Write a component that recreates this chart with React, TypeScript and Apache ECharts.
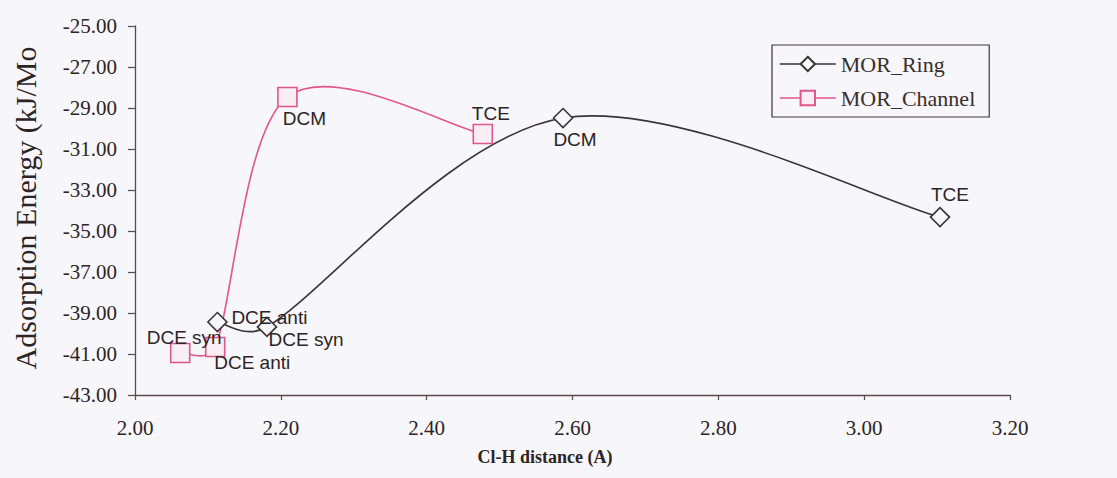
import React, { useEffect, useRef } from 'react';
import * as echarts from 'echarts';

// ---- axis ticks ----
const xTicks = [2.0, 2.2, 2.4, 2.6, 2.8, 3.0, 3.2];
const yTicks = [-43, -41, -39, -37, -35, -33, -31, -29, -27, -25];

// ---- MOR_Ring series ----
const ringNames = ['DCE anti', 'DCE syn', 'DCM', 'TCE'];
const ringX = [2.113, 2.181, 2.587, 3.104];
const ringY = [-39.44, -39.68, -29.49, -34.32];

// ---- MOR_Channel series ----
const channelNames = ['DCE syn', 'DCE anti', 'DCM', 'TCE'];
const channelX = [2.062, 2.11, 2.209, 2.477];
const channelY = [-40.95, -40.66, -28.46, -30.27];

// label offsets (px, relative to marker centre)
const ringLabelOffsets = [[52, -5], [39, 13], [12, 21], [10, -23]];
const channelLabelOffsets = [[4, -15], [37, 15], [17, 22], [8, -21]];

const RING_COLOR = '#3a3434';
const CHANNEL_COLOR = '#e2558e';
const AXIS_COLOR = '#5a4c4c';
const TEXT_COLOR = '#2d2424';
const BG = '#f7f6fa';
const LINE_W = 1.6;

// Excel-style smoothed segment between point i and i+1
// (Catmull-Rom tangents /6, control arm capped at half the segment length)
function smoothSegment(xs: number[], ys: number[], stroke: string) {
  return (params: any, api: any) => {
    const i = params.dataIndex;
    const n = xs.length;
    if (i >= n - 1) return null;
    const P = (k: number) => {
      const j = Math.max(0, Math.min(n - 1, k));
      return api.coord([xs[j], ys[j]]);
    };
    const p0 = P(i - 1);
    const p1 = P(i);
    const p2 = P(i + 1);
    const p3 = P(i + 2);
    const seg = Math.hypot(p2[0] - p1[0], p2[1] - p1[1]);
    const arm = (a: number[], b: number[]) => {
      const dx = b[0] - a[0];
      const dy = b[1] - a[1];
      const len = Math.hypot(dx, dy);
      if (len === 0) return [0, 0];
      const l = Math.min(len / 6, seg / 2);
      return [(dx / len) * l, (dy / len) * l];
    };
    const a1 = arm(p0, p2);
    const a2 = arm(p1, p3);
    const c1 = [p1[0] + a1[0], p1[1] + a1[1]];
    const c2 = [p2[0] - a2[0], p2[1] - a2[1]];
    return {
      type: 'bezierCurve',
      shape: {
        x1: p1[0],
        y1: p1[1],
        x2: p2[0],
        y2: p2[1],
        cpx1: c1[0],
        cpy1: c1[1],
        cpx2: c2[0],
        cpy2: c2[1],
      },
      style: { stroke, lineWidth: LINE_W, fill: null },
      silent: true,
    };
  };
}

export default function App() {
  const ref = useRef<HTMLDivElement>(null);

  useEffect(() => {
    if (!ref.current) return;
    const chart = echarts.init(ref.current, undefined, { renderer: 'svg' });

    const labelCommon = {
      show: true,
      position: 'inside',
      formatter: (p: any) => p.name,
      align: 'center',
      verticalAlign: 'middle',
      fontFamily: 'Liberation Sans',
      fontSize: 19,
      color: TEXT_COLOR,
    };

    const ringData = ringX.map((x, i) => ({
      value: [x, ringY[i]],
      name: ringNames[i],
      label: { offset: ringLabelOffsets[i] },
    }));
    const channelData = channelX.map((x, i) => ({
      value: [x, channelY[i]],
      name: channelNames[i],
      label: { offset: channelLabelOffsets[i] },
    }));

    const axisText = {
      fontFamily: 'Liberation Serif',
      fontSize: 21,
      color: TEXT_COLOR,
    };

    const option: any = {
      animation: false,
      backgroundColor: BG,
      grid: { left: 135, right: 107, top: 26, bottom: 83, containLabel: false },
      xAxis: {
        type: 'value',
        min: 2,
        max: 3.2,
        axisLine: { show: true, onZero: false, lineStyle: { color: AXIS_COLOR, width: 1.3 } },
        axisTick: {
          show: true,
          length: 5,
          customValues: xTicks,
          lineStyle: { color: AXIS_COLOR, width: 1.2 },
        },
        axisLabel: {
          customValues: xTicks,
          formatter: (v: number) => v.toFixed(2),
          margin: 22,
          ...axisText,
        },
        splitLine: { show: false },
      },
      yAxis: {
        type: 'value',
        min: -43,
        max: -25,
        axisLine: { show: true, onZero: false, lineStyle: { color: AXIS_COLOR, width: 1.3 } },
        axisTick: {
          show: true,
          length: 7,
          customValues: yTicks,
          lineStyle: { color: AXIS_COLOR, width: 1.2 },
        },
        axisLabel: {
          customValues: yTicks,
          formatter: (v: number) => v.toFixed(2),
          margin: 18,
          ...axisText,
        },
        splitLine: { show: false },
      },
      legend: {
        orient: 'vertical',
        left: 772,
        top: 45,
        data: [
          { name: 'MOR_Ring', lineStyle: { color: RING_COLOR, width: LINE_W } },
          { name: 'MOR_Channel', lineStyle: { color: CHANNEL_COLOR, width: LINE_W } },
        ],
        itemWidth: 56,
        itemHeight: 18,
        itemGap: 12,
        padding: [8, 14, 8, 7],
        borderColor: '#3f3535',
        borderWidth: 1.2,
        backgroundColor: 'transparent',
        textStyle: {
          fontFamily: 'Liberation Serif',
          fontSize: 22,
          color: '#3a2e2e',
        },
      },
      graphic: [
        {
          type: 'text',
          x: 25,
          y: 208,
          rotation: Math.PI / 2,
          style: {
            text: 'Adsorption Energy (kJ/Mo',
            fontFamily: 'Liberation Serif',
            fontSize: 30,
            fill: TEXT_COLOR,
            align: 'center',
            verticalAlign: 'middle',
          },
        },
        {
          type: 'text',
          x: 545,
          y: 457,
          style: {
            text: 'Cl-H distance (A)',
            fontFamily: 'Liberation Serif',
            fontWeight: 'bold',
            fontSize: 18,
            fill: TEXT_COLOR,
            align: 'center',
            verticalAlign: 'middle',
          },
        },
      ],
      series: [
        {
          name: 'MOR_Ring curve',
          type: 'custom',
          coordinateSystem: 'cartesian2d',
          z: 1,
          silent: true,
          encode: { x: 0, y: 1 },
          renderItem: smoothSegment(ringX, ringY, RING_COLOR),
          data: ringX.map((x, i) => [x, ringY[i]]),
        },
        {
          name: 'MOR_Channel curve',
          type: 'custom',
          coordinateSystem: 'cartesian2d',
          z: 1,
          silent: true,
          encode: { x: 0, y: 1 },
          renderItem: smoothSegment(channelX, channelY, CHANNEL_COLOR),
          data: channelX.map((x, i) => [x, channelY[i]]),
        },
        {
          name: 'MOR_Ring',
          type: 'line',
          z: 4,
          symbol: 'diamond',
          symbolSize: 19,
          lineStyle: { color: RING_COLOR, width: 0 },
          itemStyle: { color: BG, borderColor: RING_COLOR, borderWidth: LINE_W },
          label: labelCommon,
          data: ringData,
        },
        {
          name: 'MOR_Channel',
          type: 'line',
          z: 3,
          symbol: 'rect',
          symbolSize: 19,
          lineStyle: { color: CHANNEL_COLOR, width: 0 },
          itemStyle: { color: '#f9eef4', borderColor: CHANNEL_COLOR, borderWidth: LINE_W },
          label: labelCommon,
          data: channelData,
        },
      ],
    };

    chart.setOption(option);
    return () => chart.dispose();
  }, []);

  return (
    <div
      ref={ref}
      style={{ position: 'absolute', left: 0, top: 0, width: 1117, height: 478 }}
    />
  );
}
